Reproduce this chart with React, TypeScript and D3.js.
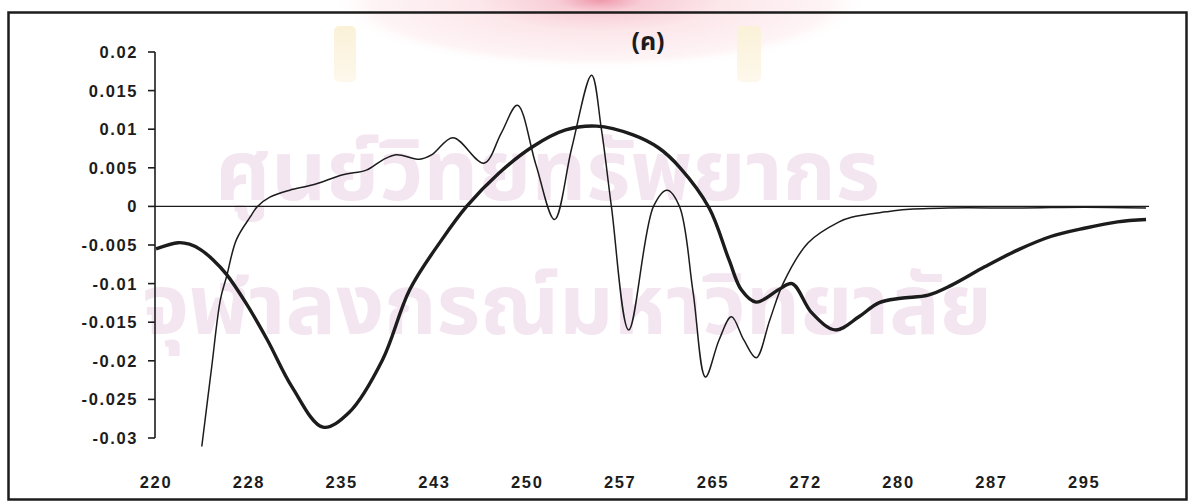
import React from "react";
import * as d3 from "d3";

// ---- data (wavelength nm, value) ----
const thickX = [220, 221.8, 222.7, 223.6, 224.6, 225.7, 227.3, 229.0, 231.0, 233.5, 235.6, 238.3, 240.5, 243.1, 245.1, 247.7, 250.4, 253.1, 255.6, 258.5, 260.6, 262.3, 264.7, 266.3, 267.3, 268.5, 270.3, 271.4, 273.0, 274.9, 276.8, 278.4, 280.2, 282.4, 284.3, 287.0, 289.7, 292.3, 295.1, 297.7, 300];
const thickY = [-0.0055, -0.0047, -0.0049, -0.0056, -0.0069, -0.0088, -0.0126, -0.0173, -0.0234, -0.0286, -0.0267, -0.0199, -0.0108, -0.0043, 0.0, 0.0043, 0.0077, 0.0099, 0.0104, 0.0093, 0.0076, 0.0051, -0.0002, -0.0069, -0.0108, -0.0124, -0.0108, -0.01, -0.0138, -0.016, -0.0143, -0.0125, -0.0119, -0.0115, -0.0102, -0.0078, -0.0056, -0.0039, -0.0028, -0.002, -0.0017];

const thinX = [223.7, 224.5, 225.2, 225.7, 226.5, 227.6, 228.2, 229.2, 230.8, 232.7, 235.1, 237.0, 238.3, 239.4, 241.3, 242.3, 244.0, 246.5, 247.9, 249.2, 250.7, 252.2, 253.6, 255.2, 256.0, 256.8, 258.2, 260.2, 261.3, 262.3, 263.4, 264.4, 265.5, 266.5, 267.5, 268.5, 269.6, 270.7, 272.7, 275.2, 276.2, 279.0, 280.6, 284, 290, 295, 300];
const thinY = [-0.0311, -0.0208, -0.0121, -0.0091, -0.0043, -0.0014, 0, 0.0012, 0.0021, 0.0028, 0.0041, 0.0047, 0.006, 0.0067, 0.0061, 0.0067, 0.0089, 0.0056, 0.0095, 0.0131, 0.0054, -0.0017, 0.0076, 0.017, 0.0099, 0, -0.016, 0, 0.0021, 0, -0.0111, -0.0221, -0.0173, -0.0143, -0.0173, -0.0196, -0.0147, -0.0099, -0.0047, -0.002, -0.0014, -0.0007, -0.0004, -0.0002, -0.0002, -0.0001, -0.0002];

const xTickValues = [220, 227.5, 235, 242.5, 250, 257.5, 265, 272.5, 280, 287.5, 295];
const xTickLabels = ["220", "228", "235", "243", "250", "257", "265", "272", "280", "287", "295"];
const yTickValues = [0.02, 0.015, 0.01, 0.005, 0, -0.005, -0.01, -0.015, -0.02, -0.025, -0.03];
const yTickLabels = ["0.02", "0.015", "0.01", "0.005", "0", "-0.005", "-0.01", "-0.015", "-0.02", "-0.025", "-0.03"];

const title = "(ค)";
const watermark1 = "ศูนย์วิทยทรัพยากร";
const watermark2 = "จุฬาลงกรณ์มหาวิทยาลัย";

export default function App() {
  const W = 1190;
  const H = 503;
  const x = d3.scaleLinear().domain([220, 300]).range([156, 1146]);
  const y = d3.scaleLinear().domain([-0.03, 0.02]).range([438, 52]);

  const line = d3
    .line<[number, number]>()
    .x((d) => x(d[0]))
    .y((d) => y(d[1]))
    .curve(d3.curveCatmullRom.alpha(0.5));

  const thick = thickX.map((v, i) => [v, thickY[i]] as [number, number]);
  const thin = thinX.map((v, i) => [v, thinY[i]] as [number, number]);

  const font = "'Liberation Sans', Arial, sans-serif";
  const ink = "#1c1c1c";

  return (
    <svg
      width={W}
      height={H}
      viewBox={`0 0 ${W} ${H}`}
      style={{ position: "absolute", left: 0, top: 0, background: "#fff" }}
    >
      <defs>
        <radialGradient id="halo" cx="50%" cy="50%" r="50%">
          <stop offset="0%" stopColor="#ef98ab" />
          <stop offset="16%" stopColor="#f8cdd6" />
          <stop offset="45%" stopColor="#fce7eb" />
          <stop offset="85%" stopColor="#fef4f5" />
          <stop offset="100%" stopColor="#fff" stopOpacity="0" />
        </radialGradient>
        <linearGradient id="pillar" x1="0" y1="0" x2="0" y2="1">
          <stop offset="0%" stopColor="#fbf1d8" />
          <stop offset="100%" stopColor="#fdf8ec" />
        </linearGradient>
      </defs>
      <rect x={0} y={0} width={W} height={H} fill="#fff" />
      {/* watermark */}
      <ellipse cx={600} cy={0} rx={270} ry={70} fill="url(#halo)" />
      <rect x={334} y={26} width={22} height={56} rx={5} fill="url(#pillar)" />
      <rect x={737} y={26} width={24} height={56} rx={5} fill="url(#pillar)" />
      <text
        x={215}
        y={200}
        fontSize={84}
        fontWeight={700}
        fill="#f4e6f1"
        textLength={665}
        lengthAdjust="spacingAndGlyphs"
        fontFamily="'Noto Sans Thai', 'Noto Sans', sans-serif"
      >
        {watermark1}
      </text>
      <text
        x={142}
        y={334}
        fontSize={84}
        fontWeight={700}
        fill="#f4e6f1"
        textLength={850}
        lengthAdjust="spacingAndGlyphs"
        fontFamily="'Noto Sans Thai', 'Noto Sans', sans-serif"
      >
        {watermark2}
      </text>

      {/* frame */}
      <rect x={8.5} y={12.5} width={1178} height={487} fill="none" stroke={ink} strokeWidth={2.5} />

      {/* y axis */}
      <line x1={155} x2={155} y1={y(0.02)} y2={y(-0.03)} stroke={ink} strokeWidth={1.6} />
      {yTickValues.map((v, i) => (
        <g key={"yt" + i}>
          <line x1={148} x2={155} y1={y(v)} y2={y(v)} stroke={ink} strokeWidth={1.6} />
          <text
            x={138}
            y={y(v) + 6}
            textAnchor="end"
            fontSize={16.5}
            fontWeight={600}
            letterSpacing={1.6}
            fontFamily={font}
            fill={ink}
          >
            {yTickLabels[i]}
          </text>
        </g>
      ))}

      {/* zero line */}
      <line x1={155} x2={x(300) + 3} y1={y(0)} y2={y(0)} stroke={ink} strokeWidth={1.3} />

      {/* x labels */}
      {xTickValues.map((v, i) => (
        <text
          key={"xt" + i}
          x={x(v)}
          y={488}
          textAnchor="middle"
          fontSize={16.5}
          fontWeight={600}
          letterSpacing={1.6}
          fontFamily={font}
          fill={ink}
        >
          {xTickLabels[i]}
        </text>
      ))}

      {/* series */}
      <path d={line(thin) || ""} fill="none" stroke={ink} strokeWidth={1.5} />
      <path d={line(thick) || ""} fill="none" stroke={ink} strokeWidth={3.4} />

      {/* title */}
      <text
        x={648}
        y={50}
        textAnchor="middle"
        fontSize={25}
        fontWeight={700}
        fontFamily="'Noto Sans Thai', 'Noto Sans', sans-serif"
        fill={ink}
      >
        {title}
      </text>
    </svg>
  );
}
